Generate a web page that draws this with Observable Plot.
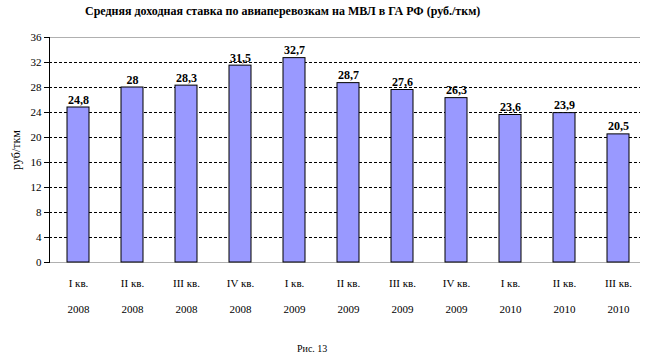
<!DOCTYPE html>
<html>
<head>
<meta charset="utf-8">
<script src="https://cdn.jsdelivr.net/npm/d3@7"></script>
<script src="https://cdn.jsdelivr.net/npm/@observablehq/plot@0.6"></script>
<style>
  body { margin: 0; background: #fff; font-family: "Liberation Serif", "Times New Roman", Tinos, Times, "DejaVu Serif", serif; }
  #title { height: 25px; line-height: 22px; font-weight: bold; font-size: 12px; padding-left: 85px; white-space: nowrap; }
  #caption { height: 28px; line-height: 28px; font-size: 10px; padding-left: 297px; }
  svg text { font-family: "Liberation Serif", "Times New Roman", Tinos, Times, "DejaVu Serif", serif; }
</style>
</head>
<body>
<div id="title">Средняя доходная ставка по авиаперевозкам на МВЛ в ГА РФ (руб./ткм)</div>
<div id="chart"></div>
<div id="caption">Рис. 13</div>
<script>
const quarters = ["I кв.", "II кв.", "III кв.", "IV кв.", "I кв.", "II кв.", "III кв.", "IV кв.", "I кв.", "II кв.", "III кв."];
const years = ["2008", "2008", "2008", "2008", "2009", "2009", "2009", "2009", "2010", "2010", "2010"];
const values = [24.8, 28, 28.3, 31.5, 32.7, 28.7, 27.6, 26.3, 23.6, 23.9, 20.5];
const yTicks = [0, 4, 8, 12, 16, 20, 24, 28, 32, 36];
const dashedTicks = [4, 8, 12, 16, 20, 24, 28, 32];
const solidTicks = [0, 36];

const data = values.map((v, i) => ({ i, value: v, quarter: quarters[i], year: years[i] }));
const fmt = v => String(v).replace(".", ",");

const chart = Plot.plot({
  width: 650,
  height: 310,
  marginTop: 12,
  marginBottom: 73,
  marginLeft: 49,
  marginRight: 4,
  style: { fontFamily: "'Liberation Serif', 'Times New Roman', Tinos, Times, 'DejaVu Serif', serif", background: "#fff" },
  x: { type: "band", domain: d3.range(values.length), paddingInner: 0.595, paddingOuter: 0.2975, axis: null },
  y: { domain: [0, 36] },
  marks: [
    Plot.ruleY(dashedTicks, { stroke: "#000", strokeWidth: 1, strokeDasharray: "3,2", insetRight: 6 }),
    Plot.ruleY(solidTicks, { stroke: "#b0b0b0", strokeWidth: 1, insetRight: 6 }),
    Plot.barY(data, { x: "i", y: "value", fill: "#9999ff", stroke: "#000", strokeWidth: 1 }),
    Plot.text(data, { x: "i", y: "value", text: d => fmt(d.value), lineAnchor: "bottom", dy: -4, fontWeight: "bold", fontSize: 12, fill: "#000" }),
    Plot.text(data, { x: "i", text: "quarter", frameAnchor: "bottom", lineAnchor: "middle", dy: 21, fontSize: 11, fill: "#000" }),
    Plot.text(data, { x: "i", text: "year", frameAnchor: "bottom", lineAnchor: "middle", dy: 47, fontSize: 11, fill: "#000" }),
    Plot.frame({ anchor: "left", stroke: "#000" }),
    Plot.axisY({ ticks: yTicks, tickSize: 5, tickPadding: 3, fontSize: 11, stroke: "#000", color: "#000",
      label: "руб/ткм", labelAnchor: "center", labelArrow: "none", labelOffset: 38 })
  ]
});
chart.querySelectorAll("g[aria-label='y-axis label']").forEach(el => el.setAttribute("font-size", 12));
document.getElementById("chart").appendChild(chart);
</script>
</body>
</html>
